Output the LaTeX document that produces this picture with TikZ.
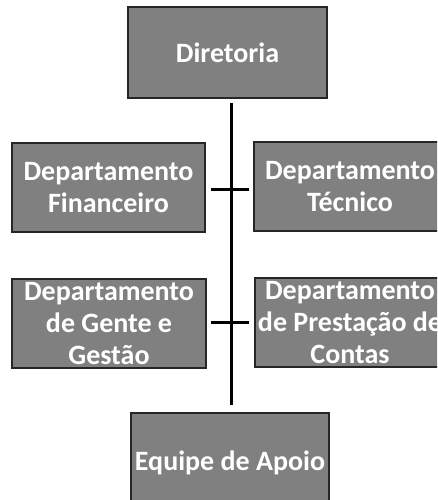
\documentclass[tikz,border=0pt]{standalone}
\usepackage{fontspec}
\setmainfont{Carlito}
\begin{document}
\begin{tikzpicture}[x=1pt,y=-1pt,
  box/.style={draw=black!85, line width=1.5pt, fill=black!50, text=white,
    font=\bfseries\fontsize{28}{32}\selectfont, align=center, inner sep=0pt},
  conn/.style={draw=black, line width=3pt}]
\useasboundingbox (0,0) rectangle (437,500);
\begin{scope}
\clip (0,0) rectangle (437,500);
\node[box, minimum width=199pt, minimum height=91pt] (dir) at (227.5,52.5) {Diretoria};
\node[box, minimum width=193pt, minimum height=89pt] (fin) at (108.5,187.5) {Departamento\\Financeiro};
\node[box, minimum width=192pt, minimum height=89pt] (tec) at (350,186.5) {Departamento\\Técnico};
\node[box, minimum width=194pt, minimum height=89pt] (gen) at (109,323.5) {Departamento\\de Gente e\\Gestão};
\node[box, minimum width=190pt, minimum height=89pt] (pre) at (350,322.5) {Departamento\\de Prestação de\\Contas};
\node[box, minimum width=198pt, minimum height=100pt] (equ) at (230,463) {Equipe de Apoio};
\end{scope}
\coordinate (top) at (231,103);
\coordinate (bot) at (231,405);
\draw[conn] (top) -- (bot);
\draw[conn, shorten <=5pt, shorten >=4pt] (fin.east |- 0,189) -- (tec.west |- 0,189);
\draw[conn, shorten <=4pt, shorten >=5pt] (gen.east |- 0,322) -- (pre.west |- 0,322);
\end{tikzpicture}
\end{document}
